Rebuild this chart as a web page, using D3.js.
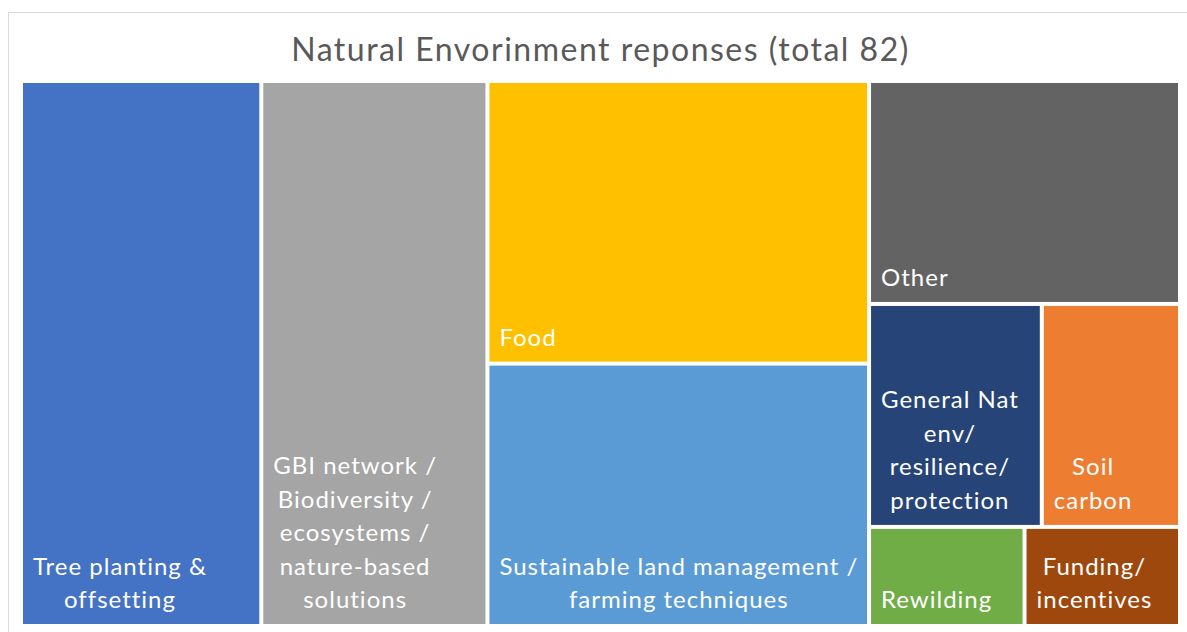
<!DOCTYPE html>
<html><head><meta charset="utf-8">
<script src="https://cdn.jsdelivr.net/npm/d3@7"></script>
<style>body{margin:0;background:#fff;} svg{display:block}</style>
</head><body><svg id="chart" width="1187" height="632"></svg>
<script>
const title = "Natural Envorinment reponses (total 82)";
const categories = [
  "Tree planting & offsetting",
  "GBI network / Biodiversity / ecosystems / nature-based solutions",
  "Food",
  "Sustainable land management / farming techniques",
  "Other",
  "General Nat env/ resilience/ protection",
  "Soil carbon",
  "Rewilding",
  "Funding/ incentives"
];
const values = [17, 16, 14, 13, 9, 5, 4, 2, 2];
const groups = ["c1", "c2", "c3", "c3", "c4", "c4/r1", "c4/r1", "c4/r2", "c4/r2"];
const labelLines = [
  ["Tree planting &", "offsetting"],
  ["GBI network /", "Biodiversity /", "ecosystems /", "nature-based", "solutions"],
  ["Food"],
  ["Sustainable land management /", "farming techniques"],
  ["Other"],
  ["General Nat", "env/", "resilience/", "protection"],
  ["Soil", "carbon"],
  ["Rewilding"],
  ["Funding/", "incentives"]
];
const colors = ["#4472C4", "#A5A5A5", "#FFC000", "#5B9BD5", "#636363", "#264478", "#ED7D31", "#70AD47", "#9E480E"];

const svg = d3.select("#chart");
const plot = {x: 23, y: 83, w: 1155, h: 541};
const FONT = "Lato, 'Open Sans', sans-serif";

// chart border
svg.append("rect").attr("x", 8.5).attr("y", 12.5).attr("width", 1200).attr("height", 700)
  .attr("fill", "none").attr("stroke", "#d9d9d9").attr("stroke-width", 1);

svg.append("text").attr("x", plot.x + plot.w / 2).attr("y", 61)
  .attr("text-anchor", "middle").attr("font-family", FONT).attr("font-size", 32)
  .attr("letter-spacing", 1.5)
  .attr("fill", "#595959").text(title);

// build hierarchy
const rootData = {name: "root", children: []};
groups.forEach((g, i) => {
  let node = rootData;
  g.split("/").forEach(k => {
    let c = node.children.find(ch => ch.name === k);
    if (!c) { c = {name: k, children: []}; node.children.push(c); }
    node = c;
  });
  node.children.push({name: categories[i], value: values[i], idx: i});
});

const root = d3.hierarchy(rootData).sum(d => d.value || 0);
d3.treemap()
  .size([plot.w, plot.h])
  .paddingInner(4)
  .tile((node, x0, y0, x1, y1) => (node.depth % 2 === 0 ? d3.treemapDice : d3.treemapSlice)(node, x0, y0, x1, y1))(root);

const g = svg.append("g").attr("transform", `translate(${plot.x},${plot.y})`);
const leaves = root.leaves();
const cell = g.selectAll("g.cell").data(leaves).join("g").attr("class", "cell");
cell.append("rect")
  .attr("x", d => d.x0).attr("y", d => d.y0)
  .attr("width", d => d.x1 - d.x0).attr("height", d => d.y1 - d.y0)
  .attr("fill", d => colors[d.data.idx]);

const lineH = 33.5;
cell.each(function(d) {
  const lines = labelLines[d.data.idx];
  const sel = d3.select(this);
  const texts = lines.map((ln, j) => sel.append("text")
    .attr("font-family", FONT).attr("font-size", 24).attr("letter-spacing", 1)
    .attr("fill", "#ffffff")
    .attr("y", d.y1 - 16 - (lines.length - 1 - j) * lineH)
    .text(ln));
  const widths = texts.map(t => t.node().getComputedTextLength());
  const maxW = d3.max(widths);
  const left = d.x0 + 10;
  texts.forEach((t, j) => t.attr("x", left + (maxW - widths[j]) / 2));
});
</script>
</body></html>
